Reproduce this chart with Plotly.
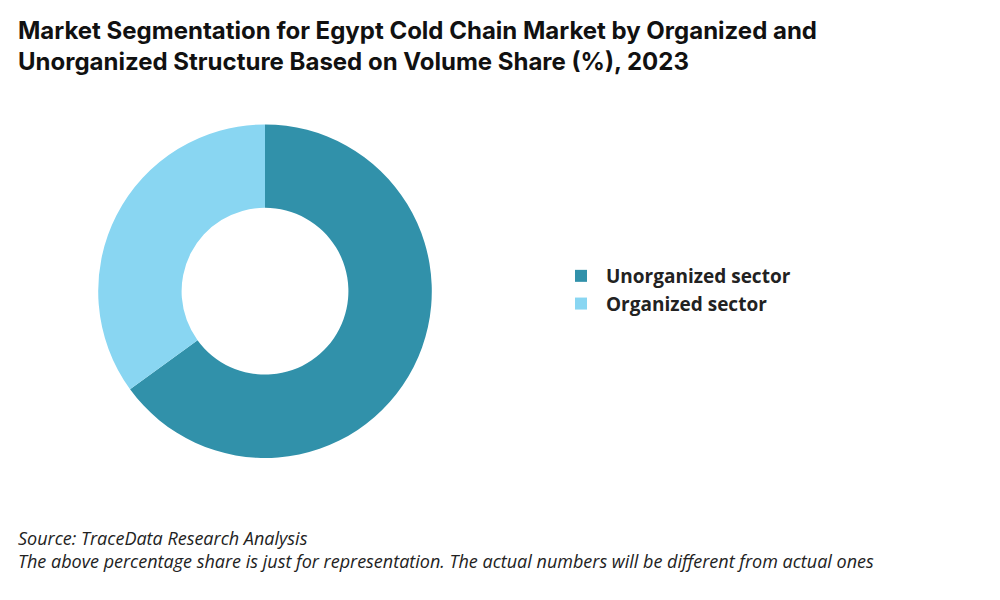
import plotly.graph_objects as go

labels = ["Unorganized sector", "Organized sector"]
values = [65, 35]
colors = ["#3191AA", "#89D6F2"]

fig = go.Figure(go.Pie(
    labels=labels, values=values, hole=0.5, sort=False, direction="clockwise",
    rotation=0, marker=dict(colors=colors), textinfo="none", hoverinfo="label+percent",
    domain=dict(x=[0.090, 0.424], y=[0.250, 0.806])
))
fig.update_layout(
    width=1000, height=600, margin=dict(l=0, r=0, t=0, b=0),
    paper_bgcolor="white", plot_bgcolor="white",
    font=dict(family="Inter, Open Sans, sans-serif", color="#111"),
    legend=dict(x=0.548, y=0.53, xanchor="left", yanchor="middle",
                font=dict(size=19, family="Open Sans", color="#222", weight="bold"),
                itemwidth=40),
    annotations=[
        dict(text="<b>Market Segmentation for Egypt Cold Chain Market by Organized and<br>Unorganized Structure Based on Volume Share (%), 2023</b>",
             x=0.008, y=0.99, xref="paper", yref="paper", xanchor="left", yanchor="top",
             align="left", showarrow=False, font=dict(size=24, color="#111", family="Inter")),
        dict(text="<i>Source: TraceData Research Analysis<br>The above percentage share is just for representation. The actual numbers will be different from actual ones</i>",
             x=0.008, y=0.14, xref="paper", yref="paper", xanchor="left", yanchor="top",
             align="left", showarrow=False, font=dict(size=18, color="#222", family="Open Sans")),
    ],
)
fig.write_html("out.html")
